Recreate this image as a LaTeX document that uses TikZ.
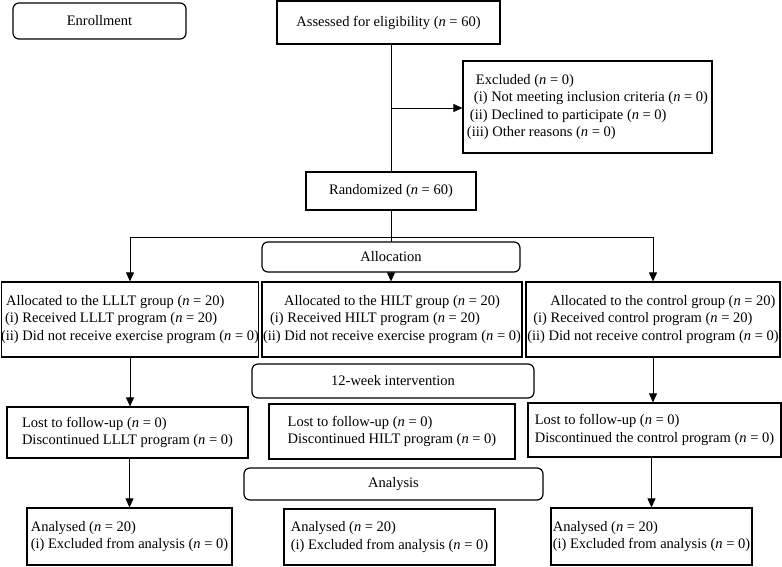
\documentclass[tikz,border=0pt]{standalone}
\usepackage{fontspec}
\setmainfont{Liberation Serif}
\usetikzlibrary{arrows.meta}

\newcommand{\flowfont}{\fontsize{14.5}{17.5}\selectfont}
\newcommand{\nn}[1]{(\textit{n}~=~#1)}

\tikzset{
  box/.style={draw, line width=1.2pt, align=left, inner sep=0pt, font=\flowfont},
  stage/.style={draw, line width=1.2pt, rounded corners=6pt, inner sep=0pt, fill=white, font=\flowfont},
  link/.style={line width=0.9pt},
  arr/.style={link, -{Triangle[width=8pt,length=9pt]}}
}

\begin{document}
\begin{tikzpicture}[x=1pt,y=-1pt]
  \useasboundingbox[fill=white] (0,0) rectangle (782,567);

  % Enrollment
  \node[stage, minimum width=173pt, minimum height=36pt] (enroll) at (99.5,21) {Enrollment};
  \node[box, minimum width=223pt, minimum height=43pt] (assess) at (388.5,22.5)
    {Assessed for eligibility \nn{60}};
  \node[box, minimum width=249pt, minimum height=92pt] (excl) at (587.5,107)
    {\hspace*{9pt}Excluded \nn{0}\\
     \hspace*{7pt}(i) Not meeting inclusion criteria \nn{0}\\
     \hspace*{3pt}(ii) Declined to participate \nn{0}\\
     (iii) Other reasons \nn{0}};
  \node[box, minimum width=170pt, minimum height=38pt] (rand) at (391,191)
    {Randomized \nn{60}};

  % Allocation
  \node[box, minimum width=256pt, minimum height=75pt] (lllt) at (130,319.5)
    {\hspace*{5pt}Allocated to the LLLT group \nn{20}\\
     \hspace*{4pt}(i) Received LLLT program \nn{20}\\
     (ii) Did not receive exercise program \nn{0}};
  \node[box, minimum width=260pt, minimum height=75pt] (hilt) at (392,319.5)
    {\hspace*{21pt}Allocated to the HILT group \nn{20}\\
     \hspace*{7pt}(i) Received HILT program \nn{20}\\
     (ii) Did not receive exercise program \nn{0}};
  \node[box, minimum width=254pt, minimum height=75pt] (ctrl) at (653,319.5)
    {\hspace*{23pt}Allocated to the control group \nn{20}\\
     \hspace*{6pt}(i) Received control program \nn{20}\\
     (ii) Did not receive control program \nn{0}};

  % Follow-up
  \node[box, minimum width=241pt, minimum height=51pt] (lostL) at (127.5,432.5)
    {Lost to follow-up \nn{0}\\ Discontinued LLLT program \nn{0}};
  \node[box, minimum width=246pt, minimum height=55pt] (lostH) at (392,431.5)
    {Lost to follow-up \nn{0}\\ Discontinued HILT program \nn{0}};
  \node[box, minimum width=253pt, minimum height=54pt] (lostC) at (654.5,430)
    {Lost to follow-up \nn{0}\\ Discontinued the control program \nn{0}};

  % Analysis
  \node[box, minimum width=205pt, minimum height=57pt] (anaL) at (129.5,536.5)
    {Analysed \nn{20}\\ (i) Excluded from analysis \nn{0}};
  \node[box, minimum width=211pt, minimum height=56pt] (anaH) at (389.5,537)
    {Analysed \nn{20}\\ (i) Excluded from analysis \nn{0}};
  \node[box, minimum width=201pt, minimum height=57pt] (anaC) at (651.5,536.5)
    {Analysed \nn{20}\\ (i) Excluded from analysis \nn{0}};

  % Connectors
  \coordinate (split) at (391,108);
  \coordinate (fork) at (391,237);
  \draw[link] (assess.south -| rand.north) -- (rand.north);
  \draw[arr] (split) -- (split -| excl.west);
  \draw[link] (rand.south) -- (fork);
  \draw[link] (fork -| lllt.north) -- (fork -| ctrl.north);
  \draw[arr] (fork -| lllt.north) -- (lllt.north);
  \draw[arr] (fork -| ctrl.north) -- (ctrl.north);
  \draw[arr] (fork) -- (fork |- hilt.north);
  \draw[arr] (lllt.south) -- (lllt.south |- lostL.north);
  \draw[arr] (lostL.south -| anaL.north) -- (anaL.north);
  \draw[arr] (ctrl.south) -- (ctrl.south |- lostC.north);
  \draw[arr] (lostC.south -| anaC.north) -- (anaC.north);

  % Stage labels
  \node[stage, minimum width=258pt, minimum height=30pt] (alloc) at (391,257) {Allocation};
  \node[stage, minimum width=282pt, minimum height=34pt] (week) at (393,381) {12-week intervention};
  \node[stage, minimum width=299pt, minimum height=32pt] (analysis) at (393.5,484) {Analysis};
\end{tikzpicture}
\end{document}
